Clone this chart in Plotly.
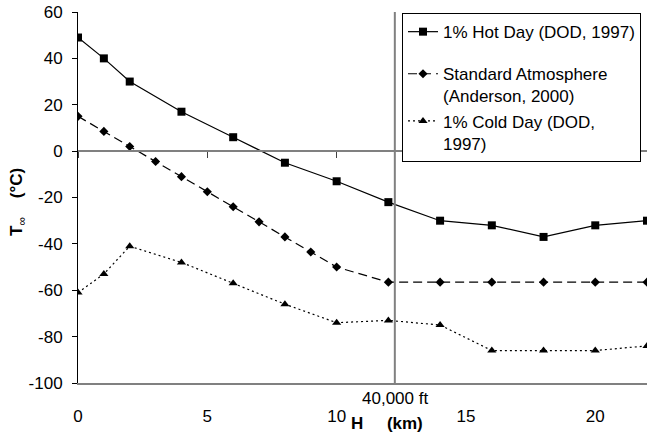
import plotly.graph_objects as go

# ---- data ----
x_hot = [0, 1, 2, 4, 6, 8, 10, 12, 14, 16, 18, 20, 22]
t_hot = [49, 40, 30, 17, 6, -5, -13, -22, -30, -32, -37, -32, -30]

x_std = [0, 1, 2, 3, 4, 5, 6, 7, 8, 9, 10, 12, 14, 16, 18, 20, 22]
t_std = [15, 8.5, 2, -4.5, -11, -17.5, -24, -30.5, -37, -43.5, -50,
         -56.5, -56.5, -56.5, -56.5, -56.5, -56.5]

x_cold = [0, 1, 2, 4, 6, 8, 10, 12, 14, 16, 18, 20, 22]
t_cold = [-61, -53, -41, -48, -57, -66, -74, -73, -75, -86, -86, -86, -84]

x_ticks = [0, 5, 10, 15, 20]
y_ticks = [60, 40, 20, 0, -20, -40, -60, -80, -100]
y_ticktext = ["60", "40", "20", "0", "-20", "-40", "-60", "-80", "-100"]
x_40kft = 12.25   # 40,000 ft marker (km)

FONT = "Liberation Sans, Arial, sans-serif"
GRAY = "#808080"

fig = go.Figure()

fig.add_trace(go.Scatter(
    x=x_hot, y=t_hot, mode="lines+markers",
    name="1% Hot Day (DOD, 1997)", legendgroup="a",
    line=dict(color="black", width=1.2),
    marker=dict(symbol="square", size=8, color="black")))

fig.add_trace(go.Scatter(
    x=x_std, y=t_std, mode="lines+markers",
    name="Standard Atmosphere<br>(Anderson, 2000)", legendgroup="b",
    line=dict(color="black", width=1.2, dash="9px,5px"),
    marker=dict(symbol="diamond", size=7, color="black")))

fig.add_trace(go.Scatter(
    x=x_cold, y=t_cold, mode="lines+markers",
    name="1% Cold Day (DOD,<br>1997)", legendgroup="b",
    line=dict(color="black", width=1.2, dash="2px,3px"),
    marker=dict(symbol="triangle-up", size=8, color="black")))

# 40,000 ft vertical reference line (on overlay axis that also carries zero-line ticks)
fig.add_trace(go.Scatter(
    x=[x_40kft, x_40kft], y=[y_ticks[-1], y_ticks[0]], mode="lines",
    line=dict(color=GRAY, width=2), showlegend=False, hoverinfo="skip",
    xaxis="x2", yaxis="y"))

ymin, ymax = -100, 60
zero_frac = (0 - ymin) / (ymax - ymin)

fig.update_layout(
    width=647, height=443,
    margin=dict(l=78, r=0, t=12, b=60),
    paper_bgcolor="white", plot_bgcolor="white",
    font=dict(family=FONT, size=17, color="black"),
    showlegend=True,
    legend=dict(
        x=(402 - 78) / 569, y=0.997, xanchor="left", yanchor="top",
        bgcolor="white", bordercolor="black", borderwidth=1,
        font=dict(family=FONT, size=17, color="black"),
        valign="top", tracegroupgap=17, traceorder="grouped"),
    xaxis=dict(
        range=[0, 22], tickvals=x_ticks, ticks="", showgrid=False,
        zeroline=False, showline=True, linecolor=GRAY, linewidth=1.5,
        tickfont=dict(family=FONT, size=17), ticklabelstandoff=17),
    xaxis2=dict(
        overlaying="x", matches="x", anchor="free", position=zero_frac,
        side="bottom", range=[0, 22], tickvals=x_ticks, ticks="outside",
        ticklen=6, tickcolor="#404040", tickwidth=1, showticklabels=False,
        showgrid=False, zeroline=False, showline=True, linecolor=GRAY,
        linewidth=1.5),
    yaxis=dict(
        range=[ymin, ymax], tickvals=y_ticks, ticktext=y_ticktext,
        ticks="outside", ticklen=5,
        tickcolor="black", showgrid=False, zeroline=False, showline=True,
        linecolor="black", linewidth=1, tickfont=dict(family=FONT, size=17),
        ticklabelstandoff=6),
)

fig.add_annotation(
    xref="x", yref="paper", x=x_40kft, y=0, yanchor="top", xanchor="center",
    yshift=-4, text="40,000 ft", showarrow=False,
    font=dict(family=FONT, size=17, color="black"))

fig.add_annotation(
    xref="paper", yref="paper", x=(386.5 - 78) / 569, y=0,
    xanchor="center", yanchor="middle", yshift=-40,
    text="<b>H\u00a0\u00a0\u00a0\u00a0\u00a0(km)</b>", showarrow=False,
    font=dict(family=FONT, size=17, color="black"))

fig.add_annotation(
    xref="paper", yref="paper", x=0, y=(383 - 202) / 371,
    xanchor="center", yanchor="middle", xshift=-60, textangle=-90,
    text="<b>T</b><sub>\u221e</sub><b>\u00a0\u00a0\u00a0\u00a0(°C)</b>",
    showarrow=False, font=dict(family=FONT, size=17, color="black"))

fig.write_html("out.html")
